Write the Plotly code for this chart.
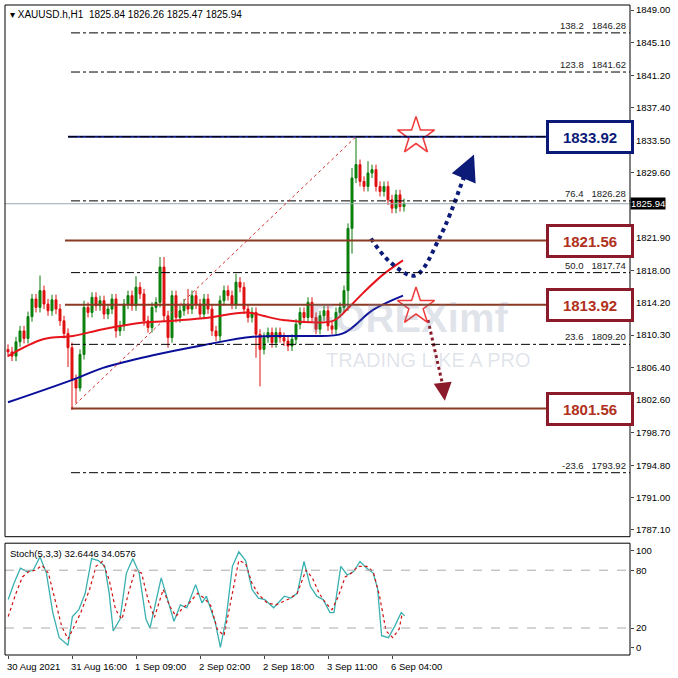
import plotly.graph_objects as go

closes = [1808.3,1807.8,1809.5,1810.8,1809.9,1812.5,1814.6,1813.6,1815.6,1814.0,
          1813.2,1814.5,1813.4,1812.0,1810.5,1808.8,1805.0,1804.0,1808.0,1813.6,
          1813.0,1814.8,1813.8,1814.4,1812.8,1813.4,1814.6,1810.8,1811.4,1814.0,
          1815.0,1813.8,1816.0,1815.2,1812.0,1811.2,1813.6,1814.2,1818.4,1812.6,
          1810.0,1815.0,1812.4,1813.2,1814.0,1813.4,1815.0,1814.0,1812.8,1814.6,
          1813.4,1810.8,1810.2,1814.4,1815.6,1815.0,1814.0,1816.6,1816.0,1813.4,
          1812.4,1813.0,1810.4,1808.6,1810.0,1810.6,1809.4,1810.6,1810.0,1809.6,
          1809.0,1809.8,1811.6,1813.0,1812.4,1814.2,1812.4,1811.0,1812.6,1813.2,
          1811.4,1811.0,1813.0,1813.6,1815.6,1823.0,1829.0,1830.6,1828.6,1828.0,
          1829.6,1830.0,1828.0,1827.4,1828.0,1826.4,1825.4,1827.0,1825.6,1825.94]
opens = [1808.6] + closes[:-1]
high_over = {8:1817.4, 32:1817.3, 38:1819.6, 39:1819.6, 57:1817.6, 86:1830.2, 87:1833.9, 90:1831.0, 19:1814.4, 45:1815.8}
low_over = {15:1806.5, 16:1801.4, 17:1802.2, 63:1804.2, 40:1808.8, 62:1807.6, 85:1813.2, 86:1820.0, 18:1803.6, 27:1810.0}
highs = [high_over.get(i, max(o, c) + 0.6) for i, (o, c) in enumerate(zip(opens, closes))]
lows = [low_over.get(i, min(o, c) - 0.6) for i, (o, c) in enumerate(zip(opens, closes))]
idx = list(range(len(closes)))

ma_fast_x = [0, 8.75, 16.25, 23.75, 33.75, 41.25, 48.75, 60, 63.75, 68.75, 81.25, 85, 88.75, 93.75, 98.75]
ma_fast_y = [1807.8, 1809.8, 1810.2, 1811.0, 1811.8, 1812.0, 1812.3, 1813.0, 1812.6, 1812.1, 1812.0, 1813.5, 1815.3, 1817.5, 1819.2]
ma_slow_x = [0, 16.25, 23.75, 36.25, 48.75, 61.25, 73.75, 83.75, 91.25, 98.75]
ma_slow_y = [1802.3, 1805.0, 1806.4, 1807.9, 1809.1, 1810.1, 1810.2, 1810.5, 1813.3, 1815.0]

stoch_x = [0.05,1.5,3.1,4.7,6.3,8.0,9.6,11.2,12.8,15.0,16.1,17.7,19.3,20.9,22.6,24.2,25.3,26.3,28.0,29.6,31.2,32.8,34.5,35.5,38.3,39.9,41.5,43.1,44.7,46.9,48.5,49.6,51.8,53.1,54.5,56.1,57.7,59.4,61.0,62.6,64.2,66.4,67.5,69.1,70.7,72.3,74.0,75.6,77.2,78.8,80.5,81.5,83.2,84.8,86.4,88.0,89.7,91.3,92.4,93.4,95.1,96.7,98.3,99.2]
stoch_k = [49.5,66.5,82,78.5,80,94,77,36,10,2,32,39,56,92,90,84,56,17,29,77,92,77,29,20,72,49.5,27,44,41,65,46,53,26,0,29,84,99,90,60,51,49.5,41,46,53,51,56,89,63,53,49.5,36,36,84,75,78.5,89,82,77,61,12,10,22,36,32.6]
sig_x = [0.05,2.0,3.6,5.2,6.9,8.5,10.1,11.7,13.4,15.0,16.6,18.2,20.4,22.0,23.6,25.3,26.9,28.5,30.1,31.8,33.4,35.0,36.6,38.8,40.4,42.0,43.7,45.3,47.4,49.1,50.7,52.3,54.0,55.6,57.7,59.4,61.0,62.6,64.8,67.0,69.1,70.7,72.3,74.5,76.1,77.8,79.4,81.0,82.6,84.3,85.9,87.5,89.7,91.3,92.9,94.5,96.2,97.8,98.5]
sig_d = [32,56,73,78.5,80,85,77,49.5,22,8.5,22,36,60,84,89,70,39,29,56,80,77,49.5,31,60,43,32,41,46,56,51,43,19,12,46,90,87,66.5,55,46,44,48,51,56,80,72,56,46,39,53,73,77,84,84,78.5,53,17,10,19,34]

price_ticks = [1849.00,1845.10,1841.20,1837.40,1833.50,1829.60,1821.90,1818.00,1814.20,1810.30,1806.40,1802.60,1798.70,1794.80,1791.00,1787.10]
date_idx = [0,16,32,48,64,80,96]
date_labels = ["30 Aug 2021","31 Aug 16:00","1 Sep 09:00","2 Sep 02:00","2 Sep 18:00","3 Sep 11:00","6 Sep 04:00"]
fib_levels = [("138.2", 1846.28), ("123.8", 1841.62), ("76.4", 1826.28), ("50.0", 1817.74), ("23.6", 1809.20), ("-23.6", 1793.92)]
key_levels = [(1833.92, "#0b1a78"), (1821.56, "#8b1a2a"), (1813.92, "#8b1a2a"), (1801.56, "#8b1a2a")]
last_price = 1825.94

XMAX = 155.5
TF = dict(size=9.5, family="Liberation Sans", color="black")
fig = go.Figure()
fig.add_trace(go.Candlestick(x=idx, open=opens, high=highs, low=lows, close=closes,
    increasing=dict(line=dict(color="#0a7a0a", width=1), fillcolor="#0a8a0a"),
    decreasing=dict(line=dict(color="#e01010", width=1), fillcolor="#e01010"),
    whiskerwidth=0, xaxis="x", yaxis="y", showlegend=False))
fig.add_trace(go.Scatter(x=ma_fast_x, y=ma_fast_y, mode="lines", line=dict(color="#e8141c", width=2, shape="spline"), showlegend=False))
fig.add_trace(go.Scatter(x=ma_slow_x, y=ma_slow_y, mode="lines", line=dict(color="#0a0f9a", width=2, shape="spline"), showlegend=False))
fig.add_trace(go.Scatter(x=[90.75, 95.5, 101.75, 108, 114], y=[1821.8, 1819.0, 1817.4, 1822.0, 1829.2], mode="lines",
    line=dict(color="#0c1a78", width=4, dash="dot", shape="spline"), showlegend=False))
fig.add_annotation(x=116.5, y=1831.8, ax=113.6, ay=1828.6, xref="x", yref="y", axref="x", ayref="y",
    showarrow=True, arrowhead=2, arrowsize=1.3, arrowwidth=4, arrowcolor="#0c1a78", text="")
fig.add_trace(go.Scatter(x=[105, 107, 108.6], y=[1812.1, 1808.0, 1804.5], mode="lines",
    line=dict(color="#8b1a2a", width=3, dash="dot"), showlegend=False))
fig.add_annotation(x=109.2, y=1802.5, ax=108.7, ay=1804.5, xref="x", yref="y", axref="x", ayref="y",
    showarrow=True, arrowhead=2, arrowsize=1.2, arrowwidth=3, arrowcolor="#8b1a2a", text="")
fig.add_trace(go.Scatter(x=[102, 102], y=[1834.0, 1813.7], mode="markers",
    marker=dict(symbol="star-open", size=28, color="#f03a3a", line=dict(width=1.5, color="#f03a3a")), showlegend=False))
fig.add_trace(go.Scatter(x=stoch_x, y=stoch_k, mode="lines", line=dict(color="#3ab0b0", width=1.3), xaxis="x2", yaxis="y2", showlegend=False))
fig.add_trace(go.Scatter(x=sig_x, y=sig_d, mode="lines", line=dict(color="#d01010", width=1.2, dash="dot"), xaxis="x2", yaxis="y2", showlegend=False))

shapes = []
shapes.append(dict(type="line", xref="paper", yref="y", x0=0, x1=1, y0=last_price, y1=last_price, line=dict(color="#9aa8b0", width=1)))
for lab, v in fib_levels:
    shapes.append(dict(type="line", xref="x", yref="y", x0=15.75, x1=XMAX, y0=v, y1=v, line=dict(color="black", width=1, dash="dashdot")))
    fig.add_annotation(xref="paper", yref="y", x=0.997, y=v, xanchor="right", yanchor="bottom", showarrow=False,
                       text=f"{lab}   {v:.2f}", font=dict(size=9.5, color="#222", family="Liberation Sans"))
shapes.append(dict(type="line", xref="x", yref="y", x0=15, x1=XMAX, y0=1833.92, y1=1833.92, line=dict(color="#0b1a78", width=2)))
shapes.append(dict(type="line", xref="x", yref="y", x0=15, x1=XMAX, y0=1833.92, y1=1833.92, line=dict(color="black", width=1, dash="dashdot")))
for v, col in key_levels[1:]:
    x0 = 15.75 if v == 1801.56 else 14.25
    shapes.append(dict(type="line", xref="x", yref="y", x0=x0, x1=XMAX, y0=v, y1=v, line=dict(color="#8a3a22", width=2)))
shapes.append(dict(type="line", xref="x", yref="y", x0=15.75, x1=87, y0=1801.56, y1=1833.92, line=dict(color="#d03030", width=1, dash="dot")))
for v in [20, 80]:
    shapes.append(dict(type="line", xref="paper", yref="y2", x0=0, x1=1, y0=v, y1=v, line=dict(color="#aaaaaa", width=1, dash="dash")))
shapes.append(dict(type="rect", xref="paper", yref="paper", x0=0, x1=1, y0=0.182, y1=1, line=dict(color="black", width=1)))
shapes.append(dict(type="rect", xref="paper", yref="paper", x0=0, x1=1, y0=0, y1=0.172, line=dict(color="black", width=1)))

for v, col in key_levels:
    fig.add_annotation(xref="x", yref="y", x=145.5, y=v, text=f"<b>{v:.2f}</b>", showarrow=False,
        font=dict(size=15, color=col if v == 1833.92 else "#b03020", family="Liberation Sans"),
        bordercolor=col, borderwidth=3, bgcolor="white", width=80, height=26)

for i, lab in zip(date_idx, date_labels):
    fig.add_annotation(xref="x2", yref="paper", x=i, y=-0.006, xanchor="left", yanchor="top", showarrow=False,
                       text=lab, font=TF, xshift=-3)

fig.add_annotation(xref="paper", yref="y", x=1.0, y=last_price, xanchor="left", showarrow=False, text="1825.94",
    font=dict(size=9.5, color="white", family="Liberation Sans"), bgcolor="black", borderpad=0)
fig.add_annotation(xref="paper", yref="paper", x=0.005, y=0.997, xanchor="left", yanchor="top", showarrow=False,
    text="▾ XAUUSD.h,H1  1825.84 1826.26 1825.47 1825.94", font=dict(size=10, color="black", family="Liberation Sans"))
fig.add_annotation(xref="paper", yref="paper", x=0.005, y=0.168, xanchor="left", yanchor="top", showarrow=False,
    text="Stoch(5,3,3) 32.6446 34.0576", font=dict(size=9.5, color="black", family="Liberation Sans"))
fig.add_annotation(xref="x", yref="y", x=75, y=1812.3, xanchor="left", showarrow=False, text="<b>FOREXimf</b>",
    font=dict(size=40, color="rgba(120,130,160,0.22)", family="Liberation Sans"))
fig.add_annotation(xref="x", yref="y", x=79, y=1807.3, xanchor="left", showarrow=False, text="TRADING LIKE A PRO",
    font=dict(size=20, color="rgba(120,130,160,0.22)", family="Liberation Sans"))

fig.update_layout(width=678, height=678, margin=dict(l=5, r=48, t=5, b=23, autoexpand=False), paper_bgcolor="white", plot_bgcolor="white",
    shapes=shapes, showlegend=False, font=dict(family="Liberation Sans", size=9.5, color="black"),
    xaxis=dict(domain=[0, 1], range=[-0.75, XMAX], showgrid=False, showticklabels=False, rangeslider=dict(visible=False), zeroline=False, anchor="y"),
    yaxis=dict(domain=[0.182, 1], range=[1786.3, 1849.6], side="right", tickvals=price_ticks, ticktext=[f"{t:.2f}" for t in price_ticks],
               ticks="outside", ticklen=3, showgrid=False, zeroline=False, tickfont=TF, automargin=False),
    xaxis2=dict(domain=[0, 1], range=[-0.75, XMAX], anchor="y2", matches="x", tickvals=date_idx, showticklabels=False,
                ticks="outside", ticklen=3, showgrid=False, zeroline=False, automargin=False),
    yaxis2=dict(domain=[0, 0.172], range=[-8, 108], side="right", tickvals=[0, 20, 80, 100], ticks="outside", ticklen=3,
                showgrid=False, zeroline=False, tickfont=TF, anchor="x2", automargin=False))
fig.write_html("out.html", config={"displayModeBar": False}, post_script="document.body.style.margin='0';")
